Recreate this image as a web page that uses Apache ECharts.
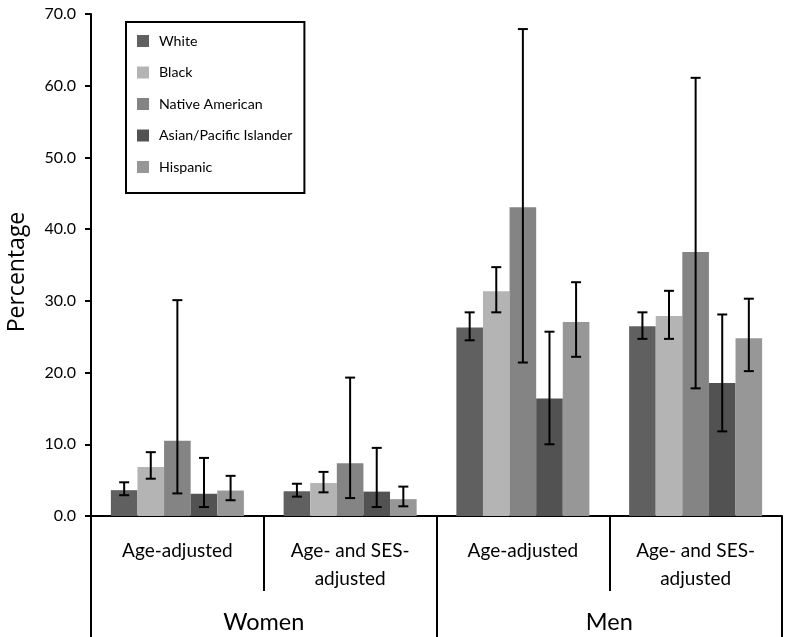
<!DOCTYPE html>
<html>
<head>
<meta charset="utf-8">
<script src="https://cdn.jsdelivr.net/npm/echarts@6/dist/echarts.min.js"></script>
<style>html,body{margin:0;padding:0;background:#fff;}#c{width:785px;height:637px;}</style>
</head>
<body>
<div id="c"></div>
<script>
const categories = ['Age-adjusted', 'Age- and SES-\nadjusted', 'Age-adjusted', 'Age- and SES-\nadjusted'];
const groups = ['Women', 'Men'];
const races = ['White', 'Black', 'Native American', 'Asian/Pacific Islander', 'Hispanic'];
const colors = ['#606060', '#b4b4b4', '#848484', '#525252', '#979797'];

const white    = [3.6, 3.45, 26.3, 26.45];
const black    = [6.85, 4.6, 31.35, 27.9];
const native   = [10.5, 7.35, 43.05, 36.8];
const asian    = [3.1, 3.4, 16.4, 18.55];
const hispanic = [3.55, 2.35, 27.05, 24.8];

const whiteLow    = [2.9, 2.7, 24.5, 24.7];
const blackLow    = [5.2, 3.3, 28.4, 24.7];
const nativeLow   = [3.15, 2.5, 21.4, 17.8];
const asianLow    = [1.25, 1.25, 10.0, 11.8];
const hispanicLow = [2.2, 1.35, 22.2, 20.2];

const whiteHigh    = [4.7, 4.5, 28.4, 28.4];
const blackHigh    = [8.9, 6.15, 34.7, 31.4];
const nativeHigh   = [30.1, 19.3, 67.9, 61.1];
const asianHigh    = [8.1, 9.5, 25.7, 28.1];
const hispanicHigh = [5.6, 4.1, 32.6, 30.3];

const yTicks = [0, 10, 20, 30, 40, 50, 60, 70];

const values = [white, black, native, asian, hispanic];
const lows = [whiteLow, blackLow, nativeLow, asianLow, hispanicLow];
const highs = [whiteHigh, blackHigh, nativeHigh, asianHigh, hispanicHigh];

const CAT_GAP = 0.23;
const FONT = 'Lato';

const series = [];
races.forEach((r, i) => {
  series.push({
    name: r, type: 'bar', xAxisIndex: 0, data: values[i],
    barGap: '0%', barCategoryGap: (CAT_GAP * 100) + '%',
    itemStyle: { color: colors[i] }, z: 2
  });
});
races.forEach((r, i) => {
  series.push({
    name: r + ' CI', type: 'custom', xAxisIndex: 0, z: 5,
    data: categories.map((c, k) => [k, lows[i][k], highs[i][k]]),
    renderItem: function (params, api) {
      const k = api.value(0);
      const lo = api.coord([k, api.value(1)]);
      const hi = api.coord([k, api.value(2)]);
      const bandW = api.size([1, 0])[0];
      const barW = bandW * (1 - CAT_GAP) / races.length;
      const x = lo[0] + (i - (races.length - 1) / 2) * barW;
      const cap = 5;
      const st = { stroke: '#000', lineWidth: 2 };
      return {
        type: 'group',
        children: [
          { type: 'line', shape: { x1: x, y1: lo[1], x2: x, y2: hi[1] }, style: st },
          { type: 'line', shape: { x1: x - cap, y1: lo[1], x2: x + cap, y2: lo[1] }, style: st },
          { type: 'line', shape: { x1: x - cap, y1: hi[1], x2: x + cap, y2: hi[1] }, style: st }
        ]
      };
    }
  });
});

const chart = echarts.init(document.getElementById('c'));
chart.setOption({
  backgroundColor: '#fff',
  animation: false,
  textStyle: { fontFamily: FONT },
  grid: { left: 91, right: 3, top: 14, bottom: 121, containLabel: false, outerBoundsMode: 'none' },
  legend: {
    data: races, orient: 'vertical', left: 126, top: 22,
    itemWidth: 12, itemHeight: 12, itemGap: 17.5,
    padding: [12, 12, 19, 11], borderColor: '#000', borderWidth: 2,
    icon: 'rect', selectedMode: false,
    textStyle: { fontFamily: FONT, fontSize: 14.2, color: '#000', padding: [0, 0, 0, 5] }
  },
  xAxis: [
    {
      type: 'category', data: categories, position: 'bottom',
      axisLine: { show: true, lineStyle: { color: '#000', width: 2 } },
      axisTick: { show: true, length: 75, lineStyle: { color: '#000', width: 2 } },
      axisLabel: { color: '#000', fontSize: 19, lineHeight: 28, margin: 21, fontFamily: FONT, interval: 0 }
    },
    {
      type: 'category', data: groups, position: 'bottom',
      axisLine: { show: false },
      axisTick: { show: true, length: 121, lineStyle: { color: '#000', width: 2 } },
      axisLabel: { color: '#000', fontSize: 23.5, margin: 94, fontFamily: FONT, interval: 0 }
    }
  ],
  yAxis: {
    type: 'value', min: yTicks[0], max: yTicks[yTicks.length - 1], interval: 10,
    name: 'Percentage', nameLocation: 'middle', nameGap: 62,
    nameTextStyle: { color: '#000', fontSize: 23, fontFamily: 'Open Sans', padding: [0, 14, 0, 0] },
    axisLine: { show: true, lineStyle: { color: '#000', width: 2 } },
    axisTick: { show: true, length: 6, lineStyle: { color: '#000', width: 2 } },
    axisLabel: { color: '#000', fontSize: 16, margin: 15, fontFamily: FONT, formatter: v => v.toFixed(1) },
    splitLine: { show: false }
  },
  series: series
});
</script>
</body>
</html>
